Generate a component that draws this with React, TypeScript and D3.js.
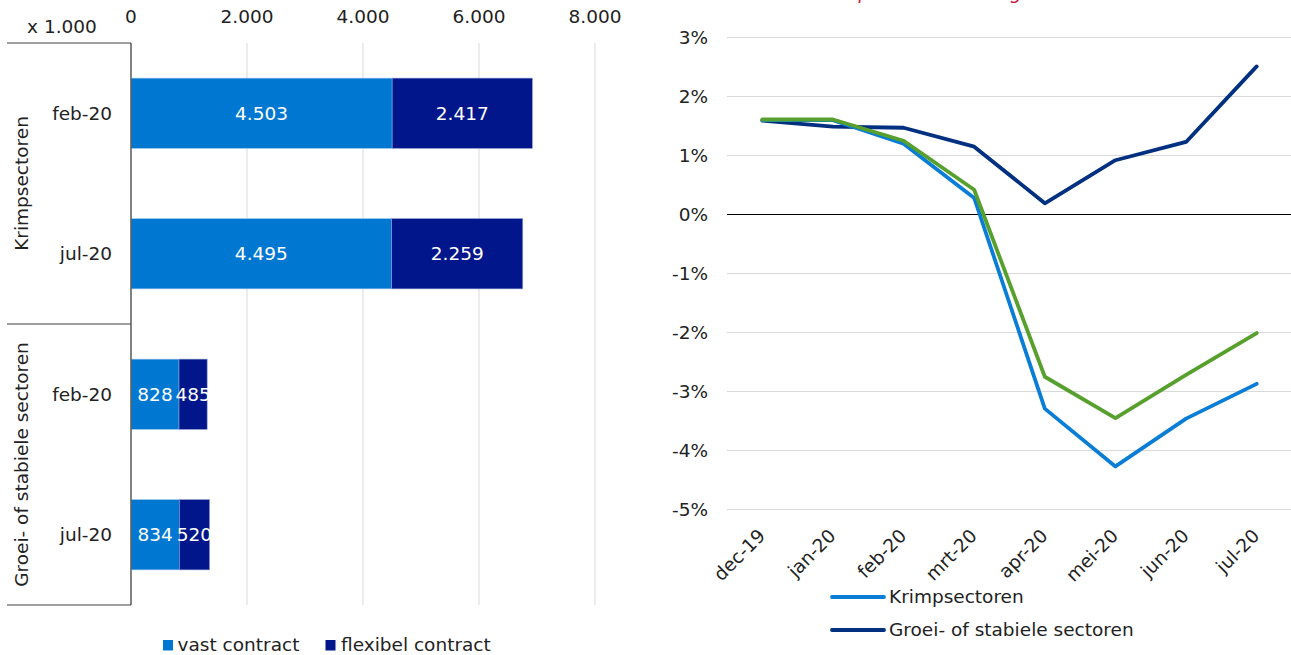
import React from 'react';
import * as d3 from 'd3';

const barCategories = ['feb-20', 'jul-20', 'feb-20', 'jul-20'];
const barGroups = ['Krimpsectoren', 'Groei- of stabiele sectoren'];
const vastValues = [4503, 4495, 828, 834];
const flexValues = [2417, 2259, 485, 520];
const barTicks = [0, 2000, 4000, 6000, 8000];
const barSeries = ['vast contract', 'flexibel contract'];

const months = ['dec-19', 'jan-20', 'feb-20', 'mrt-20', 'apr-20', 'mei-20', 'jun-20', 'jul-20'];
const krimpValues = [1.60, 1.60, 1.20, 0.28, -3.29, -4.27, -3.46, -2.87];
const groeiValues = [1.59, 1.49, 1.47, 1.15, 0.19, 0.92, 1.23, 2.51];
const greenValues = [1.61, 1.61, 1.25, 0.42, -2.75, -3.45, -2.72, -2.01];
const pctTicks = [3, 2, 1, 0, -1, -2, -3, -4, -5];
const lineLegend = ['Krimpsectoren', 'Groei- of stabiele sectoren'];

const FONT = '"DejaVu Sans", Verdana, sans-serif';
const FS = 18.5;
const C_VAST = '#0078d2';
const C_FLEX = '#00168a';
const C_KRIMP = '#0a7ed6';
const C_GROEI = '#00307f';
const C_GREEN = '#57a02e';
const GRID = '#d9d9d9';

const loc = d3.formatLocale({ decimal: ',', thousands: '.', grouping: [3], currency: ['', ''] });
const fmt = loc.format(',d');

export default function App() {
  // left chart
  const x = d3.scaleLinear().domain([0, 8000]).range([131, 595]);
  const y = d3.scaleBand<number>().domain(d3.range(barCategories.length)).range([43, 605]).paddingInner(0.5).paddingOuter(0.25);
  const groupY = d3.scaleBand<number>().domain(d3.range(barGroups.length)).range([43, 605]);

  // right chart
  const mx = d3.scalePoint<string>().domain(months).range([727, 1292]).padding(0.5);
  const py = d3.scaleLinear().domain([-5, 3]).range([509.5, 37.5]);
  const line = d3.line<number>().x((_, i) => mx(months[i]) as number).y((v) => py(v));

  return (
    <svg width={1291} height={655} style={{ display: 'block', fontFamily: FONT }}>
      <style>{'body{margin:0}'}</style>
      <rect width={1291} height={655} fill="#fff" />

      {/* ---------- left: bar chart ---------- */}
      {barTicks.slice(1).map((t) => (
        <line key={'g' + t} x1={x(t)} x2={x(t)} y1={43} y2={605} stroke={GRID} strokeWidth={1} />
      ))}
      {barTicks.map((t) => (
        <text key={'t' + t} x={x(t)} y={23} textAnchor="middle" fontSize={FS} fill="#222">{fmt(t)}</text>
      ))}
      <text x={62} y={33} textAnchor="middle" fontSize={FS} fill="#222">x 1.000</text>

      {barCategories.map((c, i) => {
        const y0 = y(i) as number;
        const bw = y.bandwidth();
        const v = vastValues[i];
        const f = flexValues[i];
        return (
          <g key={'b' + i}>
            <rect x={x(0)} y={y0} width={x(v) - x(0)} height={bw} fill={C_VAST} stroke="#9fc6ee" strokeWidth={0.6} />
            <rect x={x(v)} y={y0} width={x(v + f) - x(v)} height={bw} fill={C_FLEX} stroke="#8a95cc" strokeWidth={0.6} />
            <text x={(x(0) + x(v)) / 2} y={y0 + bw / 2} dy="0.35em" textAnchor="middle" fontSize={FS} fill="#fff">{fmt(v)}</text>
            <text x={(x(v) + x(v + f)) / 2} y={y0 + bw / 2} dy="0.35em" textAnchor="middle" fontSize={FS} fill="#fff">{fmt(f)}</text>
            <text x={112} y={y0 + bw / 2} dy="0.35em" textAnchor="end" fontSize={FS} fill="#222">{c}</text>
          </g>
        );
      })}
      <line x1={131} x2={131} y1={43} y2={605} stroke="#595959" strokeWidth={1.5} />
      {[43, 324, 605].map((yy) => (
        <line key={'sep' + yy} x1={7} x2={131} y1={yy} y2={yy} stroke="#404040" strokeWidth={1.2} />
      ))}
      {barGroups.map((g, i) => {
        const cy = (groupY(i) as number) + groupY.bandwidth() / 2;
        return (
          <text key={'grp' + i} transform={`translate(22,${cy}) rotate(-90)`} dy="0.35em" textAnchor="middle" fontSize={FS} fill="#222">{g}</text>
        );
      })}
      {/* legend */}
      <rect x={163} y={640} width={10} height={10.5} fill={C_VAST} />
      <text x={177.5} y={651} fontSize={FS} fill="#222">{barSeries[0]}</text>
      <rect x={325.5} y={640} width={10} height={10.5} fill={C_FLEX} />
      <text x={341} y={651} fontSize={FS} fill="#222">{barSeries[1]}</text>

      {/* ---------- right: line chart ---------- */}
      <text x={757} y={-1} fontSize={18} fontStyle="italic" fill="#d0103a">Werkzame personen: sectorgroei</text>
      {pctTicks.map((t) => (
        <g key={'p' + t}>
          {t !== 0 && <line x1={727} x2={1291} y1={py(t)} y2={py(t)} stroke={GRID} strokeWidth={1} />}
          <text x={708} y={py(t)} dy="0.35em" textAnchor="end" fontSize={FS} fill="#222">{t + '%'}</text>
        </g>
      ))}
      <line x1={727} x2={1291} y1={py(0)} y2={py(0)} stroke="#000" strokeWidth={1.2} />
      {months.map((m) => (
        <text key={'m' + m} transform={`translate(${(mx(m) as number) + 4},537) rotate(-45)`} textAnchor="end" fontSize={FS} fill="#222">{m}</text>
      ))}
      <path d={line(groeiValues) as string} fill="none" stroke={C_GROEI} strokeWidth={3.8} strokeLinejoin="round" strokeLinecap="round" />
      <path d={line(krimpValues) as string} fill="none" stroke={C_KRIMP} strokeWidth={3.8} strokeLinejoin="round" strokeLinecap="round" />
      <path d={line(greenValues) as string} fill="none" stroke={C_GREEN} strokeWidth={3.8} strokeLinejoin="round" strokeLinecap="round" />

      {/* line legend */}
      <line x1={832} x2={884} y1={597} y2={597} stroke={C_KRIMP} strokeWidth={3.8} strokeLinecap="round" />
      <text x={889} y={597} dy="0.35em" fontSize={FS} fill="#222">{lineLegend[0]}</text>
      <line x1={832} x2={884} y1={630} y2={630} stroke={C_GROEI} strokeWidth={3.8} strokeLinecap="round" />
      <text x={889} y={630} dy="0.35em" fontSize={FS} fill="#222">{lineLegend[1]}</text>
    </svg>
  );
}
